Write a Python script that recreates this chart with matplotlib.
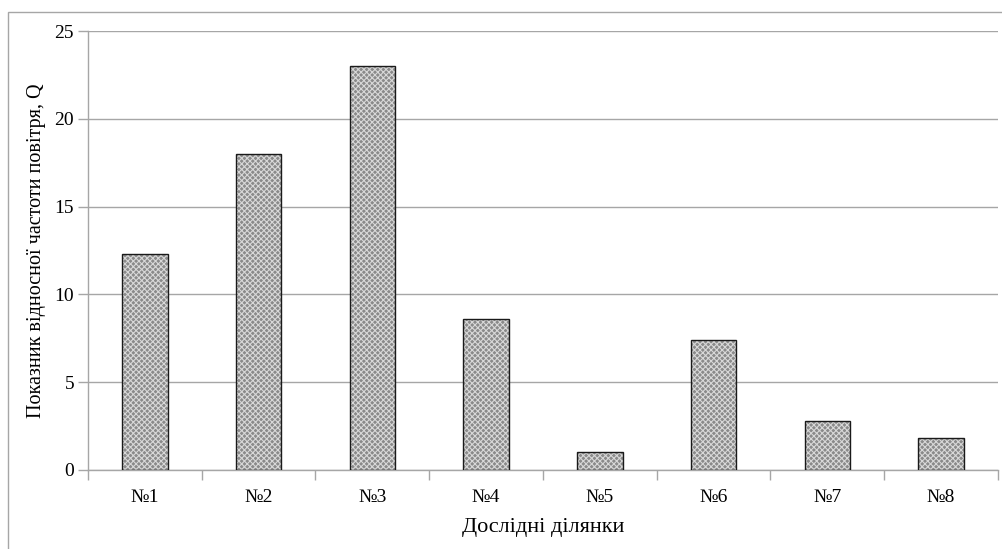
import numpy as np
import matplotlib
matplotlib.use('Agg')
import matplotlib.pyplot as plt
from matplotlib.patches import Rectangle

#dane
dilyanky = ['№1', '№2', '№3', '№4', '№5', '№6', '№7', '№8']
q_values = [12.3, 18.0, 23.0, 8.6, 1.0, 7.4, 2.8, 1.8]
y_ticks = [0, 5, 10, 15, 20, 25]

plt.rcParams['font.family'] = ['Liberation Serif', 'DejaVu Serif']
plt.rcParams['font.size'] = 14
plt.rcParams['hatch.linewidth'] = 0.8

fig = plt.figure(figsize=(10.02, 5.49), dpi=100)
ax = fig.add_axes([0.0878, 0.1439, 0.9082, 0.7996])

x = np.arange(len(dilyanky))
#wypelnienie w kropki + obramowanie
ax.bar(x, q_values, width=0.4, color='#8a8a8a', edgecolor='#d8d8d8',
       hatch='xxxxxx', linewidth=0, zorder=2)
ax.bar(x, q_values, width=0.4, facecolor='none', edgecolor='#1a1a1a',
       linewidth=1.0, zorder=3)

ax.set_xlim(-0.5, len(dilyanky) - 0.5)
ax.set_ylim(0, 25)
ax.set_yticks(y_ticks)
ax.yaxis.grid(True, color='#a6a6a6', linewidth=1)
ax.set_axisbelow(True)

ax.set_xticks(x)
ax.set_xticklabels(dilyanky)
ax.set_xticks(np.arange(-0.5, len(dilyanky)), minor=True)
ax.tick_params(axis='x', which='major', length=0, pad=14)
ax.tick_params(axis='x', which='minor', length=7, color='#a6a6a6', width=1)
ax.tick_params(axis='y', length=7, color='#a6a6a6', width=1, pad=3)

for s in ['top', 'right']:
    ax.spines[s].set_visible(False)
for s in ['left', 'bottom']:
    ax.spines[s].set_color('#a6a6a6')
    ax.spines[s].set_linewidth(1)

ax.set_ylabel('Показник відносної частоти повітря, Q', fontsize=14.5, labelpad=6)
ax.set_xlabel('Дослідні ділянки', fontsize=16, labelpad=8)

#ramka wykresu
fig.patches.append(Rectangle((8 / 1002, -0.1), 1.1, 1 - 12 / 549 + 0.1,
                             transform=fig.transFigure, fill=False,
                             edgecolor='#a6a6a6', linewidth=1))

plt.savefig('out.png', dpi=100)
